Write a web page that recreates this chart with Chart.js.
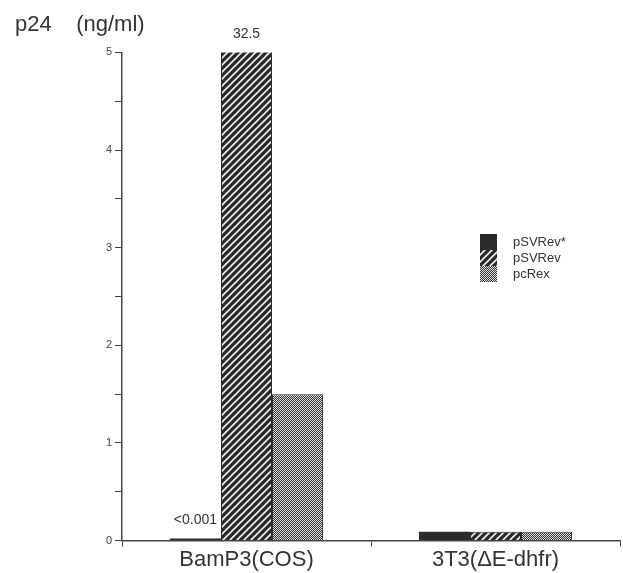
<!DOCTYPE html>
<html>
<head>
<meta charset="utf-8">
<script src="https://cdn.jsdelivr.net/npm/chart.js@4.4.1/dist/chart.umd.min.js"></script>
<style>
  html, body { margin: 0; padding: 0; background: #fff; }
  #wrap { width: 623px; height: 573px; }
</style>
</head>
<body>
<div id="wrap"><canvas id="p24-chart"></canvas></div>
<script>
const categories = ['BamP3(COS)', '3T3(\u0394E-dhfr)'];
const seriesNames = ['pSVRev*', 'pSVRev', 'pcRex'];
const pSVRevStar = [0.001, 0.09];
const pSVRev = [32.5, 0.09];
const pcRex = [1.5, 0.09];
// text printed above bars (per series, per category)
const valueLabels = [['<0.001', ''], ['32.5', ''], ['', '']];

const FONT = "'Liberation Sans', Arial, Helvetica, sans-serif";
const INK = '#333';

function hatchPattern() {
  const c = document.createElement('canvas');
  c.width = 7; c.height = 7;
  const g = c.getContext('2d');
  g.fillStyle = '#2a2a2a';
  g.fillRect(0, 0, 7, 7);
  g.strokeStyle = '#f0f0f0';
  g.lineWidth = 1.6;
  g.beginPath();
  g.moveTo(-1, 8); g.lineTo(8, -1);
  g.moveTo(-1, 1); g.lineTo(1, -1);
  g.moveTo(6, 8); g.lineTo(8, 6);
  g.stroke();
  return g.createPattern(c, 'repeat');
}

function dotPattern() {
  const c = document.createElement('canvas');
  c.width = 2; c.height = 2;
  const g = c.getContext('2d');
  g.fillStyle = '#353535';
  g.fillRect(0, 0, 2, 2);
  g.fillStyle = '#dcdcdc';
  g.fillRect(0, 0, 1, 1);
  g.fillRect(1, 1, 1, 1);
  return g.createPattern(c, 'repeat');
}

const fills = ['#2a2a2a', hatchPattern(), dotPattern()];

// labels over bars, "32.5" sits above the clipped bar
const barLabels = {
  id: 'barLabels',
  afterDatasetsDraw(chart) {
    const ctx = chart.ctx;
    const top = chart.chartArea.top;
    ctx.save();
    ctx.font = '14px ' + FONT;
    ctx.fillStyle = INK;
    ctx.textAlign = 'center';
    ctx.textBaseline = 'middle';
    chart.data.datasets.forEach((ds, i) => {
      chart.getDatasetMeta(i).data.forEach((bar, j) => {
        const txt = valueLabels[i][j];
        if (!txt) return;
        const y = Math.max(bar.y, top);
        ctx.fillText(txt, bar.x, y - 18);
      });
    });
    ctx.restore();
  }
};

// small stacked legend inside the plot
const boxLegend = {
  id: 'boxLegend',
  afterDraw(chart) {
    const ctx = chart.ctx;
    const x = chart.chartArea.left + 358;
    const y0 = 234;
    const row = 16;
    ctx.save();
    ctx.font = '13px ' + FONT;
    ctx.textBaseline = 'middle';
    chart.data.datasets.forEach((ds, i) => {
      const y = y0 + i * row;
      ctx.fillStyle = ds.backgroundColor;
      ctx.fillRect(x, y, 17, row);
      ctx.fillStyle = INK;
      ctx.fillText(ds.label, x + 33, y + row / 2);
    });
    ctx.restore();
  }
};

const datasets = [pSVRevStar, pSVRev, pcRex].map((values, i) => ({
  label: seriesNames[i],
  data: values,
  backgroundColor: fills[i],
  borderColor: '#2a2a2a',
  borderWidth: i === 0 ? 0 : 1,
  minBarLength: 2,
}));

new Chart(document.getElementById('p24-chart'), {
  type: 'bar',
  data: { labels: categories, datasets: datasets },
  plugins: [barLabels, boxLegend],
  options: {
    responsive: true,
    maintainAspectRatio: false,
    animation: false,
    categoryPercentage: 0.615,
    barPercentage: 1,
    layout: { padding: { left: 15, right: 3, top: 0, bottom: 0 } },
    plugins: {
      legend: { display: false },
      tooltip: { enabled: false },
      title: {
        display: true,
        text: 'p24    (ng/ml)',
        align: 'start',
        color: INK,
        font: { family: FONT, size: 22, weight: 'normal' },
        padding: { top: 12, bottom: 14 },
      },
    },
    scales: {
      x: {
        grid: { offset: true, drawOnChartArea: false, tickLength: 6, color: '#444' },
        border: { color: '#444', width: 1.5 },
        ticks: { color: INK, padding: 0, font: { family: FONT, size: 22 } },
      },
      y: {
        min: 0,
        max: 5,
        afterFit(scale) { scale.width = 107; },
        grid: { drawOnChartArea: false, tickLength: 7, color: '#444' },
        border: { color: '#444', width: 1.5 },
        ticks: {
          stepSize: 0.5,
          color: '#444',
          padding: 3,
          font: { family: FONT, size: 11 },
          callback: (v) => (Number.isInteger(v) ? v : ''),
        },
      },
    },
  },
});
</script>
</body>
</html>
